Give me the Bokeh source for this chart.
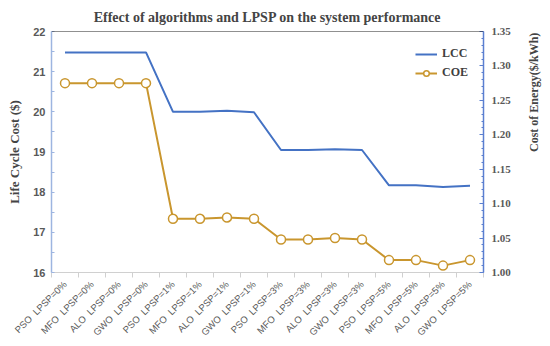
from bokeh.plotting import figure
from bokeh.models import (Range1d, LinearAxis, FixedTicker, SingleIntervalTicker,
                          PrintfTickFormatter, Span, Label, Legend, LegendItem)
from bokeh.embed import file_html
from bokeh.resources import INLINE
import math

algorithms = ["PSO", "MFO", "ALO", "GWO"]
lpsp_levels = ["0%", "1%", "3%", "5%"]
categories = [f"{a}\u00a0\u00a0LPSP={l}" for l in lpsp_levels for a in algorithms]
lcc = [21.48, 21.48, 21.48, 21.48,
       20.00, 20.00, 20.03, 19.99,
       19.05, 19.05, 19.07, 19.05,
       18.17, 18.17, 18.13, 18.16]
coe = [1.275, 1.275, 1.275, 1.275,
       1.078, 1.078, 1.080, 1.078,
       1.048, 1.048, 1.050, 1.048,
       1.018, 1.018, 1.010, 1.018]

xs = list(range(len(categories)))

p = figure(width=550, height=346, output_backend="svg", toolbar_location=None,
           x_range=Range1d(-0.5, len(categories) - 0.5), y_range=Range1d(16, 22),
           min_border_left=51, min_border_right=64, min_border_top=31, min_border_bottom=74,
           title="Effect of algorithms and LPSP on the system performance")
p.extra_y_ranges = {"coe": Range1d(1.0, 1.35)}
p.outline_line_color = None
p.grid.visible = False

p.title.text_font = "Liberation Serif"
p.title.text_font_size = "14px"
p.title.text_font_style = "bold"
p.title.align = "center"
p.title.vertical_align = "top"
p.title.offset = 8
p.title.standoff = 10

# bottom axis
xa = p.xaxis[0]
xa.ticker = FixedTicker(ticks=xs, minor_ticks=[i - 0.5 for i in range(len(categories) + 1)])
xa.major_label_overrides = {i: c for i, c in enumerate(categories)}
xa.major_label_orientation = math.pi / 4
xa.major_tick_out = 0
xa.major_tick_in = 0
xa.minor_tick_out = 5
xa.minor_tick_in = 0
xa.minor_tick_line_color = "#D0D0D0"
xa.axis_line_color = "#D0D0D0"
xa.major_label_text_font = "Liberation Sans"
xa.major_label_text_font_size = "9.5px"
xa.major_label_text_color = "#595959"
xa.major_label_standoff = 5

# left axis
ya = p.yaxis[0]
ya.ticker = SingleIntervalTicker(interval=1, num_minor_ticks=2)
ya.axis_line_color = "#9DB5E0"
ya.axis_line_width = 1.5
ya.major_tick_out = 0
ya.major_tick_in = 0
ya.minor_tick_in = 3
ya.minor_tick_out = 0
ya.minor_tick_line_color = "#9DB5E0"
ya.major_label_text_font = "Liberation Sans"
ya.major_label_text_font_style = "bold"
ya.major_label_text_font_size = "11px"
ya.major_label_text_color = "#595959"
ya.major_label_standoff = 6
ya.axis_label = "Life Cycle Cost ($)"
ya.axis_label_text_font = "Liberation Serif"
ya.axis_label_text_font_style = "bold"
ya.axis_label_text_font_size = "13px"
ya.axis_label_standoff = 8

# right axis
ra = LinearAxis(y_range_name="coe", ticker=SingleIntervalTicker(interval=0.05, num_minor_ticks=5),
                formatter=PrintfTickFormatter(format="%.2f"))
ra.axis_line_color = "#5B7FD0"
ra.axis_line_width = 1.5
ra.major_tick_out = 0
ra.major_tick_in = 4
ra.major_tick_line_color = "#5B7FD0"
ra.minor_tick_in = 2
ra.minor_tick_out = 0
ra.minor_tick_line_color = "#5B7FD0"
ra.major_label_text_font = "Liberation Serif"
ra.major_label_text_font_style = "bold"
ra.major_label_text_font_size = "11px"
ra.major_label_text_color = "#595959"
ra.major_label_standoff = 8
ra.axis_label = "Cost of Energy($/kWh)"
ra.axis_label_text_font = "Liberation Serif"
ra.axis_label_text_font_style = "bold"
ra.axis_label_text_font_size = "12px"
ra.axis_label_standoff = 20
ra.axis_label_orientation = math.pi / 2
p.add_layout(ra, "right")

# top border
p.add_layout(Span(location=22, dimension="width", line_color="#222222", line_width=1))

# exponent label
p.add_layout(Label(x=-0.5, y=22, text="10⁶", x_offset=-9, y_offset=1,
                   text_font="Liberation Sans", text_font_style="bold",
                   text_font_size="10px", text_color="#404040", text_baseline="bottom"))

blue = "#4472C4"
gold = "#C9962E"
r1 = p.line(xs, lcc, line_color=blue, line_width=2)
r2 = p.line(xs, coe, line_color=gold, line_width=2, y_range_name="coe")
r3 = p.scatter(xs, coe, marker="circle", size=9, fill_color="white", line_color=gold,
               line_width=1.5, y_range_name="coe")

leg = Legend(items=[LegendItem(label="LCC", renderers=[r1]),
                    LegendItem(label="COE", renderers=[r2, r3])],
             location="top_right")
leg.border_line_color = None
leg.background_fill_alpha = 0
leg.label_text_font = "Liberation Serif"
leg.label_text_font_style = "bold"
leg.label_text_font_size = "12px"
leg.label_text_color = "#404040"
leg.glyph_width = 22
leg.glyph_height = 14
leg.spacing = 4
leg.padding = 4
leg.margin = 15
p.add_layout(leg)

open("out.html", "w").write(file_html(p, INLINE))
